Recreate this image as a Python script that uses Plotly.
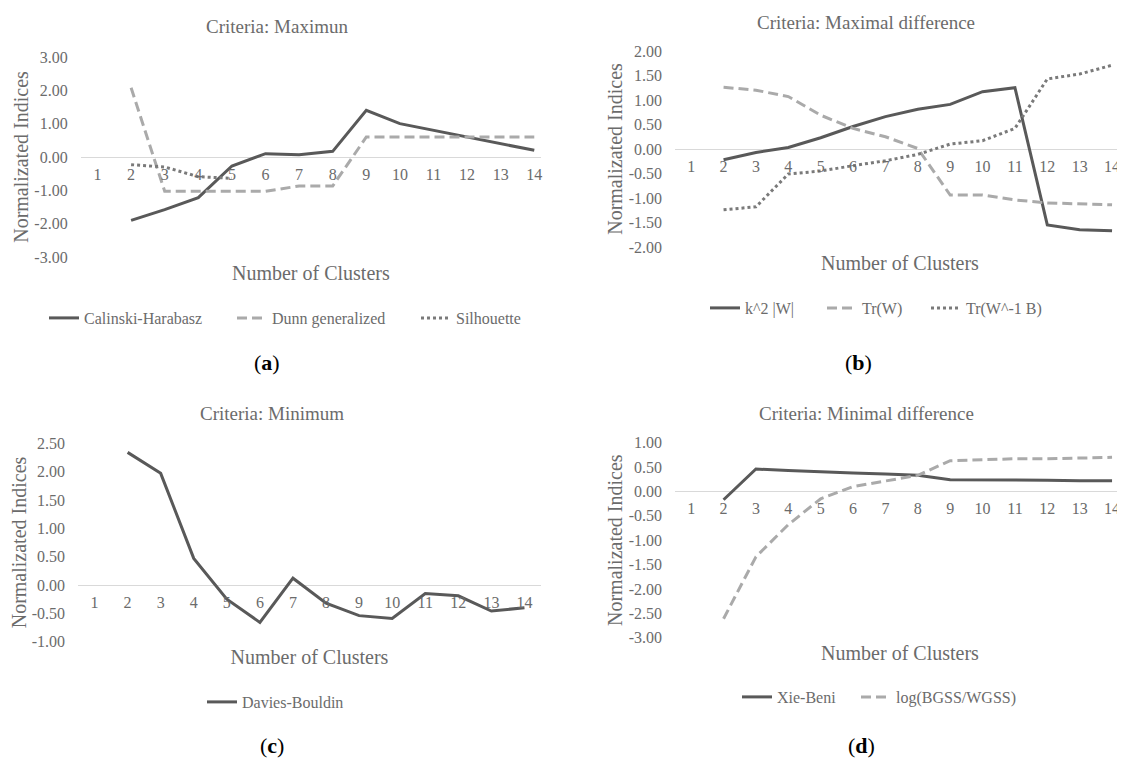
import plotly.graph_objects as go

# ---------------- data ----------------
clusters = list(range(1, 15))
cluster_labels = [str(c) for c in clusters]
k_values = list(range(2, 15))

# (a) Criteria: Maximun
calinski = [-1.90, -1.58, -1.22, -0.27, 0.10, 0.07, 0.17, 1.40, 1.00, 0.80, 0.60, 0.40, 0.20]
dunn = [2.08, -1.03, -1.03, -1.03, -1.03, -0.87, -0.87, 0.60, 0.60, 0.60, 0.60, 0.60, 0.60]
silhouette = [-0.23, -0.30, -0.59, -0.64, None, None, None, None, None, None, None, None, None]

# (b) Criteria: Maximal difference
k2w = [-0.22, -0.07, 0.03, 0.23, 0.46, 0.66, 0.81, 0.91, 1.17, 1.25, -1.55, -1.65, -1.67]
trw = [1.26, 1.20, 1.07, 0.69, 0.42, 0.25, 0.01, -0.94, -0.94, -1.04, -1.10, -1.12, -1.14]
trwb = [-1.24, -1.18, -0.51, -0.45, -0.34, -0.24, -0.11, 0.10, 0.17, 0.42, 1.43, 1.53, 1.71]

# (c) Criteria: Minimum
davies = [2.34, 1.97, 0.47, -0.25, -0.66, 0.12, -0.32, -0.54, -0.59, -0.15, -0.19, -0.46, -0.40]

# (d) Criteria: Minimal difference
xie_beni = [-0.17, 0.46, 0.43, 0.40, 0.38, 0.36, 0.33, 0.24, 0.24, 0.23, 0.23, 0.22, 0.22]
log_bw = [-2.61, -1.34, -0.68, -0.15, 0.10, 0.21, 0.33, 0.63, 0.65, 0.67, 0.67, 0.68, 0.70]

yticks_a = [-3, -2, -1, 0, 1, 2, 3]
yticks_b = [-2, -1.5, -1, -0.5, 0, 0.5, 1, 1.5, 2]
yticks_c = [-1, -0.5, 0, 0.5, 1, 1.5, 2, 2.5]
yticks_d = [-3, -2.5, -2, -1.5, -1, -0.5, 0, 0.5, 1]

titles = ["Criteria: Maximun", "Criteria: Maximal difference",
          "Criteria: Minimum", "Criteria: Minimal difference"]
panel_labels = ["a", "b", "c", "d"]

# ---------------- styling ----------------
OFF = 8                     # page body margin of the html page
W, H = 1125 - OFF, 758 - OFF
FONT = "Liberation Serif"
TXT = "#6b6b6b"
DARK = "#595959"
LIGHT = "#aaaaaa"
DOT = "#7a7a7a"
ZERO = "#d9d9d9"


def fx(px):
    return (px - OFF) / W


def fy(py):
    return 1 - (py - OFF) / H


fig = go.Figure()

series = [
    # x, y, name, color, dash, xaxis, yaxis, legend text start (px), legend y (px)
    (k_values, calinski, "Calinski-Harabasz", DARK, "solid", "x", "y", 85, 318),
    (k_values, dunn, "Dunn generalized", LIGHT, "10px,5px", "x", "y", 273, 318),
    (k_values, silhouette, "Silhouette", DOT, "3px,3px", "x", "y", 457, 318),
    (k_values, k2w, "k^2 |W|", DARK, "solid", "x2", "y2", 746, 308),
    (k_values, trw, "Tr(W)", LIGHT, "10px,5px", "x2", "y2", 863, 308),
    (k_values, trwb, "Tr(W^-1 B)", DOT, "3px,3px", "x2", "y2", 967, 308),
    (k_values, davies, "Davies-Bouldin", DARK, "solid", "x3", "y3", 243, 702),
    (k_values, xie_beni, "Xie-Beni", DARK, "solid", "x4", "y4", 778, 697),
    (k_values, log_bw, "log(BGSS/WGSS)", LIGHT, "10px,5px", "x4", "y4", 897, 697),
]

layout = dict(
    width=W, height=H, margin=dict(l=0, r=0, t=0, b=0, autoexpand=False),
    paper_bgcolor="white", plot_bgcolor="white",
    font=dict(family=FONT, color=TXT, size=16),
    showlegend=True,
    annotations=[],
)

for j, (x, y, name, color, dash, xa, ya, ltx, lty) in enumerate(series):
    key = "legend" if j == 0 else f"legend{j + 1}"
    fig.add_trace(go.Scatter(
        x=x, y=y, name=name, mode="lines", xaxis=xa, yaxis=ya, legend=key,
        showlegend=True,
        line=dict(color=color, width=3, dash=dash), connectgaps=False,
        hoverinfo="x+y+name"))
    layout[key] = dict(
        orientation="h", x=fx(ltx - 41), y=fy(lty), xanchor="left", yanchor="middle",
        bgcolor="rgba(0,0,0,0)", borderwidth=0, visible=True,
        font=dict(family=FONT, size=16, color=TXT),
        itemclick=False, itemdoubleclick=False)

# panel geometry in pixels:
# (x0, x1, xrange_max, ytop, ybottom, yrange, yticks, zero_py, xtitle_standoff)
panels = [
    (80.7, 541, 14.2, 57, 257, [-3, 3], yticks_a, 157, 83),
    (675, 1125, 14.4, 51, 247, [-2, 2], yticks_b, 149, 81),
    (78, 541, 14.5, 443.3, 641.7, [-1, 2.5], yticks_c, 585, 39),
    (675, 1125, 14.4, 442.7, 637.7, [-3, 1], yticks_d, 491, 129),
]

for i, (x0, x1, xmax, yt, yb, yr, yt_vals, zpy, xso) in enumerate(panels):
    sfx = "" if i == 0 else str(i + 1)
    layout["xaxis" + sfx] = dict(
        domain=[fx(x0), min(1, fx(x1))], range=[0.5, xmax],
        tickmode="array", tickvals=clusters, ticktext=cluster_labels,
        showgrid=False, zeroline=False, showline=False, ticks="",
        anchor="free", position=fy(zpy), ticklabelstandoff=6,
        automargin=False,
        tickfont=dict(family=FONT, size=16, color=TXT),
        title=dict(text="Number of Clusters", standoff=xso,
                   font=dict(family=FONT, size=20, color=TXT)),
        fixedrange=True,
    )
    layout["yaxis" + sfx] = dict(
        domain=[fy(yb), fy(yt)], range=yr,
        tickmode="array", tickvals=yt_vals, ticktext=[f"{v:.2f}" for v in yt_vals],
        showgrid=False, zeroline=True, zerolinecolor=ZERO, zerolinewidth=1.2,
        showline=False, ticks="", anchor="x" + sfx, ticklabelstandoff=12,
        automargin=False,
        tickfont=dict(family=FONT, size=16, color=TXT),
        title=dict(text="Normalizated Indices", standoff=0,
                   font=dict(family=FONT, size=20, color=TXT)),
        fixedrange=True,
    )

# chart titles
title_pos = [(277, 26), (866, 22), (272, 413), (866, 413)]
for t, (px, py) in zip(titles, title_pos):
    layout["annotations"].append(dict(
        text=t, x=fx(px), y=fy(py), xref="paper", yref="paper",
        xanchor="center", yanchor="middle", showarrow=False,
        font=dict(family=FONT, size=19, color=TXT)))

# panel labels
label_pos = [(267, 362), (858, 362), (272, 745), (861, 745)]
for lab, (px, py) in zip(panel_labels, label_pos):
    layout["annotations"].append(dict(
        text=f"(<b>{lab}</b>)", x=fx(px), y=fy(py), xref="paper", yref="paper",
        xanchor="center", yanchor="middle", showarrow=False,
        font=dict(family=FONT, size=22, color="black")))

fig.update_layout(**layout)
fig.write_html("out.html")
